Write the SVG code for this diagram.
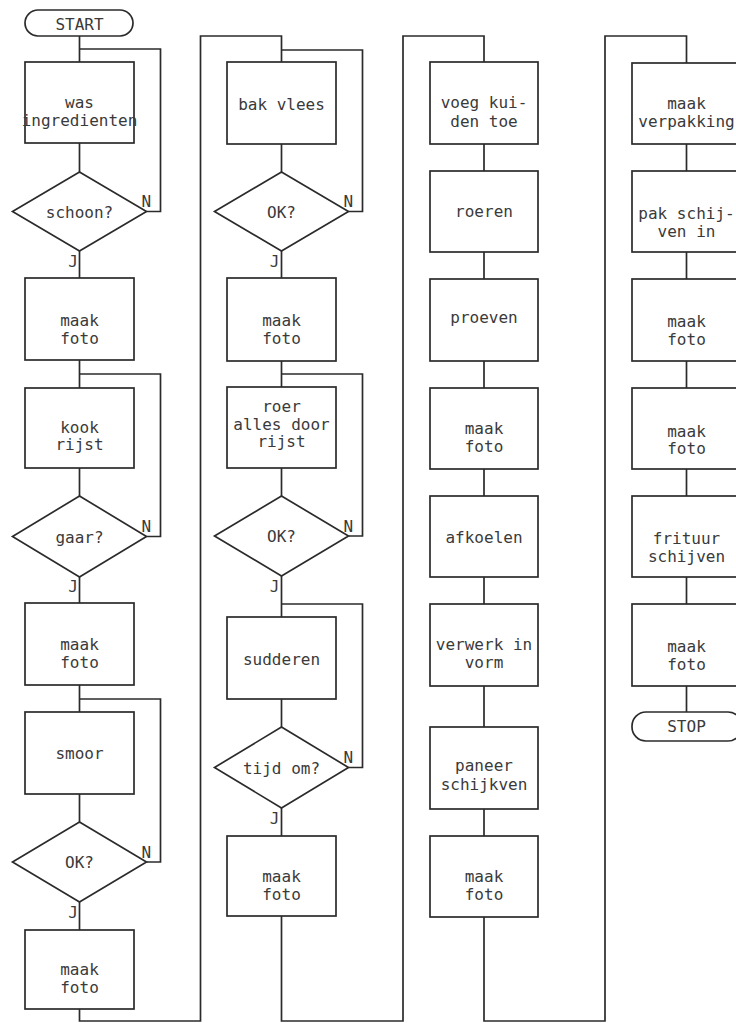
<svg xmlns="http://www.w3.org/2000/svg" width="736" height="1023" viewBox="0 0 736 1023">
<style>
.s{fill:#fff;stroke:#2b2b2b;stroke-width:1.7}
.c{fill:none;stroke:#2b2b2b;stroke-width:1.7}
text{font-family:"DejaVu Sans Mono","Liberation Mono",monospace;font-size:16px;fill:#3a3a3a;text-anchor:middle}
.l{text-anchor:start}
.e{text-anchor:end}
</style>
<rect width="736" height="1023" fill="#fff"/>
<g id="connectors" class="c">
<path d="M79.5,36V62M79.5,143V172M79.5,251V278M79.5,360V388M79.5,468V496M79.5,577V603M79.5,685V712M79.5,794V822M79.5,902V930"/>
<path d="M79.5,49H160.5V211.5H146.5"/>
<path d="M79.5,374H160.5V536.5H146.5"/>
<path d="M79.5,699H160.5V862H146.5"/>
<path d="M79.5,1009V1021H200.5V36H281.5V62"/>
<path d="M281.5,144V172M281.5,251V278M281.5,361V387M281.5,468V496M281.5,576V617M281.5,699V727M281.5,808V836"/>
<path d="M281.5,50H362.5V211.5H348.5"/>
<path d="M281.5,374H362.5V536H348.5"/>
<path d="M281.5,604H362.5V767.5H348.5"/>
<path d="M281.5,916V1021H403V36H484V62"/>
<path d="M484,144V171M484,252V279M484,361V388M484,469V496M484,577V604M484,686V727M484,809V836"/>
<path d="M484,917V1021H605V36H686.5V63"/>
<path d="M686.5,144V171M686.5,252V279M686.5,361V388M686.5,469V496M686.5,577V604M686.5,686V712"/>
</g>
<g id="start"><rect class="s" x="25" y="10" width="108" height="26" rx="13"/><text x="79.5" y="30">START</text></g>
<g id="c1b1"><rect class="s" x="25" y="62" width="109" height="81"/><text x="79.5" y="108">was</text><text x="79.5" y="126">ingredienten</text></g>
<g id="c1d1"><polygon class="s" points="79.5,172 146.5,211.5 79.5,251 12.5,211.5"/><text x="79.5" y="218">schoon?</text><text class="l" x="141.5" y="207">N</text><text class="e" x="78" y="267">J</text></g>
<g id="c1b2"><rect class="s" x="25" y="278" width="109" height="82"/><text x="79.5" y="326">maak</text><text x="79.5" y="344">foto</text></g>
<g id="c1b3"><rect class="s" x="25" y="388" width="109" height="80"/><text x="79.5" y="433">kook</text><text x="79.5" y="450">rijst</text></g>
<g id="c1d2"><polygon class="s" points="79.5,496 146.5,536.5 79.5,577 12.5,536.5"/><text x="79.5" y="543">gaar?</text><text class="l" x="141.5" y="532">N</text><text class="e" x="78" y="592">J</text></g>
<g id="c1b4"><rect class="s" x="25" y="603" width="109" height="82"/><text x="79.5" y="650">maak</text><text x="79.5" y="668">foto</text></g>
<g id="c1b5"><rect class="s" x="25" y="712" width="109" height="82"/><text x="79.5" y="759">smoor</text></g>
<g id="c1d3"><polygon class="s" points="79.5,822 146.5,862 79.5,902 12.5,862"/><text x="79.5" y="868">OK?</text><text class="l" x="141.5" y="858">N</text><text class="e" x="78" y="918">J</text></g>
<g id="c1b6"><rect class="s" x="25" y="930" width="109" height="79"/><text x="79.5" y="975">maak</text><text x="79.5" y="993">foto</text></g>
<g id="c2b1"><rect class="s" x="227" y="62" width="109" height="82"/><text x="281.5" y="110">bak vlees</text></g>
<g id="c2d1"><polygon class="s" points="281.5,172 348.5,211.5 281.5,251 214.5,211.5"/><text x="281.5" y="218">OK?</text><text class="l" x="343.5" y="207">N</text><text class="e" x="279.5" y="267">J</text></g>
<g id="c2b2"><rect class="s" x="227" y="278" width="109" height="83"/><text x="281.5" y="326">maak</text><text x="281.5" y="344">foto</text></g>
<g id="c2b3"><rect class="s" x="227" y="387" width="109" height="81"/><text x="281.5" y="412">roer</text><text x="281.5" y="430">alles door</text><text x="281.5" y="447">rijst</text></g>
<g id="c2d2"><polygon class="s" points="281.5,496 348.5,536 281.5,576 214.5,536"/><text x="281.5" y="542">OK?</text><text class="l" x="343.5" y="532">N</text><text class="e" x="279.5" y="592">J</text></g>
<g id="c2b4"><rect class="s" x="227" y="617" width="109" height="82"/><text x="281.5" y="665">sudderen</text></g>
<g id="c2d3"><polygon class="s" points="281.5,727 348.5,767.5 281.5,808 214.5,767.5"/><text x="281.5" y="774">tijd om?</text><text class="l" x="343.5" y="763">N</text><text class="e" x="279.5" y="824">J</text></g>
<g id="c2b5"><rect class="s" x="227" y="836" width="109" height="80"/><text x="281.5" y="882">maak</text><text x="281.5" y="900">foto</text></g>
<g id="c3b1"><rect class="s" x="430" y="62" width="108" height="82"/><text x="484" y="108">voeg kui-</text><text x="484" y="127">den toe</text></g>
<g id="c3b2"><rect class="s" x="430" y="171" width="108" height="81"/><text x="484" y="217">roeren</text></g>
<g id="c3b3"><rect class="s" x="430" y="279" width="108" height="82"/><text x="484" y="323">proeven</text></g>
<g id="c3b4"><rect class="s" x="430" y="388" width="108" height="81"/><text x="484" y="434">maak</text><text x="484" y="452">foto</text></g>
<g id="c3b5"><rect class="s" x="430" y="496" width="108" height="81"/><text x="484" y="543">afkoelen</text></g>
<g id="c3b6"><rect class="s" x="430" y="604" width="108" height="82"/><text x="484" y="650">verwerk in</text><text x="484" y="668">vorm</text></g>
<g id="c3b7"><rect class="s" x="430" y="727" width="108" height="82"/><text x="484" y="771">paneer</text><text x="484" y="790">schijkven</text></g>
<g id="c3b8"><rect class="s" x="430" y="836" width="108" height="81"/><text x="484" y="882">maak</text><text x="484" y="900">foto</text></g>
<g id="c4b1"><rect class="s" x="632" y="63" width="110" height="81"/><text x="686.5" y="109">maak</text><text x="686.5" y="127">verpakking</text></g>
<g id="c4b2"><rect class="s" x="632" y="171" width="110" height="81"/><text x="686.5" y="219">pak schij-</text><text x="686.5" y="237">ven in</text></g>
<g id="c4b3"><rect class="s" x="632" y="279" width="110" height="82"/><text x="686.5" y="327">maak</text><text x="686.5" y="345">foto</text></g>
<g id="c4b4"><rect class="s" x="632" y="388" width="110" height="81"/><text x="686.5" y="437">maak</text><text x="686.5" y="454">foto</text></g>
<g id="c4b5"><rect class="s" x="632" y="496" width="110" height="81"/><text x="686.5" y="544">frituur</text><text x="686.5" y="562">schijven</text></g>
<g id="c4b6"><rect class="s" x="632" y="604" width="110" height="82"/><text x="686.5" y="652">maak</text><text x="686.5" y="670">foto</text></g>
<g id="stop"><rect class="s" x="632" y="712" width="110" height="29" rx="14"/><text x="686.5" y="732">STOP</text></g>
</svg>
